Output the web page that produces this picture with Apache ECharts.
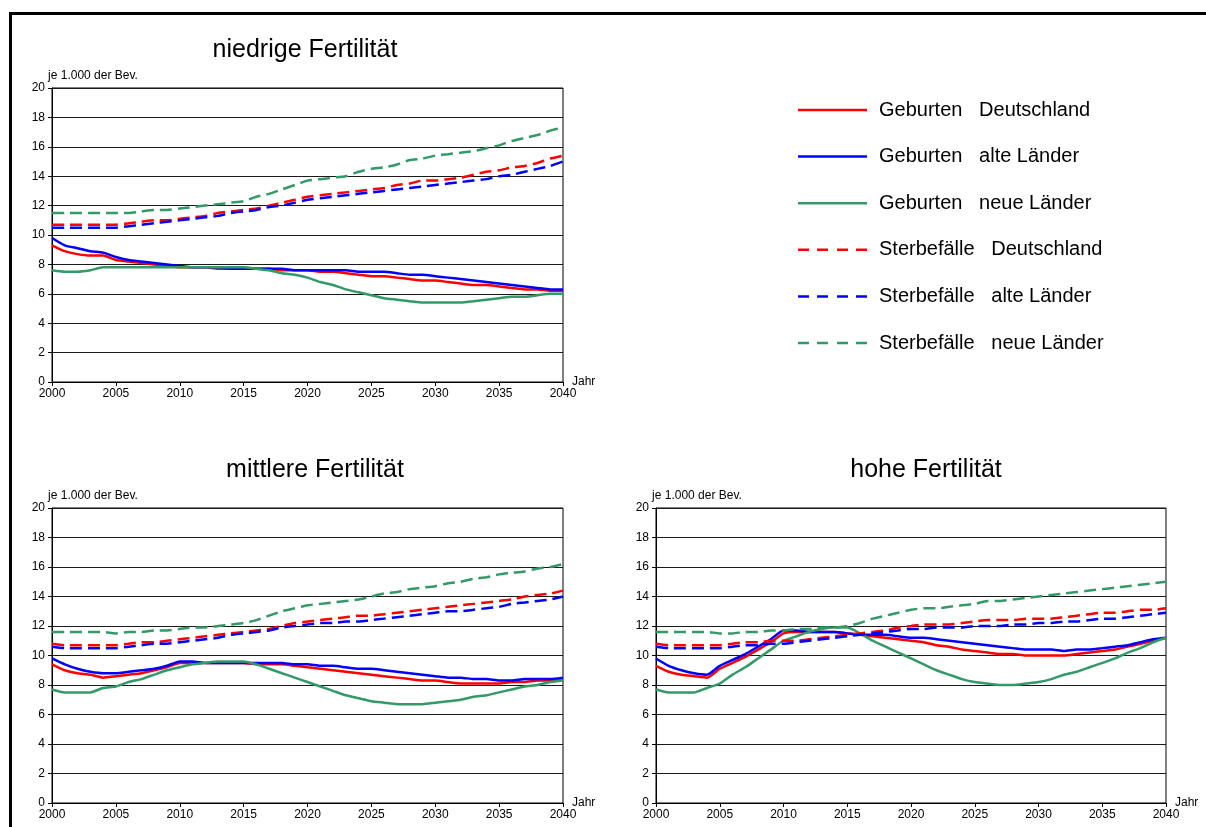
<!DOCTYPE html>
<html>
<head>
<meta charset="utf-8">
<script src="https://cdn.jsdelivr.net/npm/echarts@6/dist/echarts.min.js"></script>
<style>
html,body{margin:0;padding:0;background:#fff;}
#chart{width:1206px;height:827px;}
</style>
</head>
<body>
<div id="chart"></div>
<script>
// ---- Data ----
var years = [2000,2001,2002,2003,2004,2005,2006,2007,2008,2009,2010,2011,2012,2013,2014,2015,2016,2017,2018,2019,2020,2021,2022,2023,2024,2025,2026,2027,2028,2029,2030,2031,2032,2033,2034,2035,2036,2037,2038,2039,2040];
var seriesNames = ['Geburten   Deutschland','Geburten   alte Länder','Geburten   neue Länder','Sterbefälle   Deutschland','Sterbefälle   alte Länder','Sterbefälle   neue Länder'];
var panelTitles = ['niedrige Fertilität','mittlere Fertilität','hohe Fertilität'];
var yTicks = [0,2,4,6,8,10,12,14,16,18,20];
var xTicks = [2000,2005,2010,2015,2020,2025,2030,2035,2040];

// niedrige Fertilität
var n_geb_de  = [9.3,8.9,8.7,8.6,8.6,8.3,8.2,8.1,8.0,7.9,7.8,7.8,7.8,7.7,7.7,7.7,7.7,7.7,7.6,7.6,7.6,7.5,7.5,7.4,7.3,7.2,7.2,7.1,7.0,6.9,6.9,6.8,6.7,6.6,6.6,6.5,6.4,6.3,6.3,6.2,6.2];
var n_geb_alt = [9.8,9.3,9.1,8.9,8.8,8.5,8.3,8.2,8.1,8.0,7.9,7.8,7.8,7.8,7.7,7.7,7.7,7.7,7.7,7.6,7.6,7.6,7.6,7.6,7.5,7.5,7.5,7.4,7.3,7.3,7.2,7.1,7.0,6.9,6.8,6.7,6.6,6.5,6.4,6.3,6.3];
var n_geb_neu = [7.6,7.5,7.5,7.6,7.8,7.8,7.8,7.8,7.8,7.8,7.8,7.8,7.8,7.8,7.8,7.8,7.7,7.6,7.4,7.3,7.1,6.8,6.6,6.3,6.1,5.9,5.7,5.6,5.5,5.4,5.4,5.4,5.4,5.5,5.6,5.7,5.8,5.8,5.9,6.0,6.0];
var n_st_de   = [10.7,10.7,10.7,10.7,10.7,10.7,10.8,10.9,11.0,11.0,11.1,11.2,11.3,11.5,11.6,11.7,11.8,12.0,12.2,12.4,12.6,12.7,12.8,12.9,13.0,13.1,13.2,13.4,13.5,13.7,13.7,13.8,13.9,14.1,14.3,14.4,14.6,14.7,14.9,15.2,15.4];
var n_st_alt  = [10.5,10.5,10.5,10.5,10.5,10.5,10.6,10.7,10.8,10.9,11.0,11.1,11.2,11.3,11.5,11.6,11.7,11.9,12.0,12.2,12.4,12.5,12.6,12.7,12.8,12.9,13.0,13.1,13.2,13.3,13.4,13.5,13.6,13.7,13.8,14.0,14.1,14.3,14.5,14.7,15.0];
var n_st_neu  = [11.5,11.5,11.5,11.5,11.5,11.5,11.5,11.6,11.7,11.7,11.8,11.9,12.0,12.1,12.2,12.3,12.6,12.8,13.1,13.4,13.7,13.8,13.9,14.0,14.3,14.5,14.6,14.8,15.1,15.2,15.4,15.5,15.6,15.7,15.9,16.1,16.4,16.6,16.8,17.1,17.3];

// mittlere Fertilität
var m_geb_de  = [9.4,9.0,8.8,8.7,8.5,8.6,8.7,8.8,9.0,9.2,9.5,9.5,9.5,9.5,9.5,9.5,9.4,9.4,9.4,9.3,9.2,9.1,9.0,8.9,8.8,8.7,8.6,8.5,8.4,8.3,8.3,8.2,8.1,8.1,8.1,8.1,8.2,8.2,8.3,8.3,8.4];
var m_geb_alt = [9.8,9.4,9.1,8.9,8.8,8.8,8.9,9.0,9.1,9.3,9.6,9.6,9.5,9.5,9.5,9.5,9.5,9.5,9.5,9.4,9.4,9.3,9.3,9.2,9.1,9.1,9.0,8.9,8.8,8.7,8.6,8.5,8.5,8.4,8.4,8.3,8.3,8.4,8.4,8.4,8.5];
var m_geb_neu = [7.7,7.5,7.5,7.5,7.8,7.9,8.2,8.4,8.7,9.0,9.2,9.4,9.5,9.6,9.6,9.6,9.4,9.1,8.8,8.5,8.2,7.9,7.6,7.3,7.1,6.9,6.8,6.7,6.7,6.7,6.8,6.9,7.0,7.2,7.3,7.5,7.7,7.9,8.0,8.2,8.3];
var m_st_de   = [10.8,10.7,10.7,10.7,10.7,10.7,10.8,10.9,10.9,11.0,11.1,11.2,11.3,11.4,11.5,11.6,11.7,11.8,12.0,12.2,12.3,12.4,12.5,12.6,12.7,12.7,12.8,12.9,13.0,13.1,13.2,13.3,13.4,13.5,13.6,13.7,13.8,14.0,14.1,14.2,14.4];
var m_st_alt  = [10.6,10.5,10.5,10.5,10.5,10.5,10.6,10.7,10.8,10.8,10.9,11.0,11.1,11.2,11.4,11.5,11.6,11.7,11.9,12.0,12.1,12.2,12.2,12.3,12.3,12.4,12.5,12.6,12.7,12.8,12.9,13.0,13.0,13.1,13.2,13.3,13.5,13.6,13.7,13.8,14.0];
var m_st_neu  = [11.6,11.6,11.6,11.6,11.6,11.5,11.6,11.6,11.7,11.7,11.8,11.9,11.9,12.0,12.1,12.2,12.4,12.7,13.0,13.2,13.4,13.5,13.6,13.7,13.8,14.0,14.2,14.3,14.5,14.6,14.7,14.9,15.0,15.2,15.3,15.5,15.6,15.7,15.9,16.0,16.2];

// hohe Fertilität
var h_geb_de  = [9.3,8.9,8.7,8.6,8.5,9.1,9.5,9.9,10.4,10.9,11.5,11.6,11.6,11.6,11.6,11.5,11.4,11.3,11.2,11.1,11.0,10.9,10.7,10.6,10.4,10.3,10.2,10.1,10.1,10.0,10.0,10.0,10.0,10.1,10.2,10.3,10.4,10.6,10.8,11.0,11.2];
var h_geb_alt = [9.8,9.3,9.0,8.8,8.7,9.3,9.7,10.1,10.6,11.1,11.7,11.7,11.6,11.6,11.6,11.5,11.4,11.4,11.4,11.3,11.2,11.2,11.1,11.0,10.9,10.8,10.7,10.6,10.5,10.4,10.4,10.4,10.3,10.4,10.4,10.5,10.6,10.7,10.9,11.1,11.2];
var h_geb_neu = [7.7,7.5,7.5,7.5,7.8,8.1,8.7,9.2,9.8,10.4,11.0,11.3,11.6,11.8,11.9,11.9,11.5,11.0,10.6,10.2,9.8,9.4,9.0,8.7,8.4,8.2,8.1,8.0,8.0,8.1,8.2,8.4,8.7,8.9,9.2,9.5,9.8,10.2,10.5,10.9,11.2];
var h_st_de   = [10.8,10.7,10.7,10.7,10.7,10.7,10.8,10.9,10.9,11.0,11.0,11.0,11.1,11.2,11.3,11.4,11.5,11.6,11.7,11.9,12.0,12.1,12.1,12.1,12.2,12.3,12.4,12.4,12.4,12.5,12.5,12.5,12.6,12.7,12.8,12.9,12.9,13.0,13.1,13.1,13.2];
var h_st_alt  = [10.6,10.5,10.5,10.5,10.5,10.5,10.6,10.7,10.7,10.8,10.8,10.9,11.0,11.1,11.2,11.3,11.4,11.5,11.6,11.7,11.8,11.8,11.9,11.9,11.9,12.0,12.0,12.0,12.1,12.1,12.2,12.2,12.3,12.3,12.4,12.5,12.5,12.6,12.7,12.8,12.9];
var h_st_neu  = [11.6,11.6,11.6,11.6,11.6,11.5,11.5,11.6,11.6,11.7,11.7,11.8,11.8,11.9,11.9,12.0,12.2,12.5,12.7,12.9,13.1,13.2,13.2,13.3,13.4,13.5,13.7,13.7,13.8,13.9,14.0,14.1,14.2,14.3,14.4,14.5,14.6,14.7,14.8,14.9,15.0];

// ---- Build chart ----
var FONT = '"Liberation Sans", Arial, sans-serif';
var colors = ['#ff0000','#0000ff','#339966','#ff0000','#0000ff','#339966'];
var SOLID_ICON = 'path://M0,0H69V2.5H0Z';
var DASH_ICON = 'path://M0,0H11V2.5H0Z M19,0H30V2.5H19Z M39,0H50V2.5H39Z M58,0H69V2.5H58Z';
var panels = [
  [n_geb_de,n_geb_alt,n_geb_neu,n_st_de,n_st_alt,n_st_neu],
  [m_geb_de,m_geb_alt,m_geb_neu,m_st_de,m_st_alt,m_st_neu],
  [h_geb_de,h_geb_alt,h_geb_neu,h_st_de,h_st_alt,h_st_neu]
];
var grids = [
  {left:52, top:88, width:511, height:294},
  {left:52, top:508, width:511, height:295},
  {left:656, top:508, width:510, height:295}
];
var titleCenters = [[305,38],[315,458],[926,458]];

var grid = [], xAxis = [], yAxis = [], series = [], title = [];
grids.forEach(function(g, i){
  grid.push({left:g.left, top:g.top, width:g.width, height:g.height, show:true, borderColor:'#000', borderWidth:1, backgroundColor:'transparent'});
  xAxis.push({
    type:'value', gridIndex:i, min:xTicks[0], max:xTicks[xTicks.length-1], interval:5,
    name:'Jahr', nameLocation:'end', nameGap:9,
    nameTextStyle:{fontFamily:FONT, fontSize:12, color:'#000', verticalAlign:'middle', padding:[0,0,18,0]},
    axisLine:{show:true, lineStyle:{color:'#000', width:1}},
    axisTick:{show:true, length:4, lineStyle:{color:'#000'}},
    axisLabel:{fontFamily:FONT, fontSize:12, color:'#000', margin:6, formatter:function(v){ return String(v); }},
    splitLine:{show:false}
  });
  yAxis.push({
    type:'value', gridIndex:i, min:yTicks[0], max:yTicks[yTicks.length-1], interval:2,
    name:'je 1.000 der Bev.', nameLocation:'end', nameGap:11,
    nameTextStyle:{fontFamily:FONT, fontSize:12, color:'#000', align:'center', verticalAlign:'middle', padding:[0,0,0,82]},
    axisLine:{show:true, lineStyle:{color:'#000', width:1}},
    axisTick:{show:true, length:4, lineStyle:{color:'#000'}},
    axisLabel:{fontFamily:FONT, fontSize:12, color:'#000', margin:7},
    splitLine:{show:true, lineStyle:{color:'#1a1a1a', width:1}}
  });
  title.push({
    text:panelTitles[i], left:titleCenters[i][0], top:titleCenters[i][1], textAlign:'center', padding:0,
    textStyle:{fontFamily:FONT, fontSize:25, fontWeight:'normal', color:'#000'}
  });
  panels[i].forEach(function(vals, k){
    series.push({
      name:seriesNames[k], type:'line', xAxisIndex:i, yAxisIndex:i,
      data: years.map(function(y, j){ return [y, vals[j]]; }),
      symbol:'none', smooth:0.2, animation:false,
      lineStyle:{color:colors[k], width: 2.5, type: k<3 ? 'solid' : [12,6]},
      itemStyle:{color:colors[k]}
    });
  });
});

var legendData = seriesNames.map(function(n, k){
  return {name:n, icon: k<3 ? SOLID_ICON : DASH_ICON};
});

var chart = echarts.init(document.getElementById('chart'), null, {renderer:'canvas'});
chart.setOption({
  backgroundColor:'#fff',
  animation:false,
  title:title,
  grid:grid, xAxis:xAxis, yAxis:yAxis, series:series,
  legend:{
    data:legendData, orient:'vertical', left:793, top:95,
    itemWidth:69, itemHeight:20, itemGap:26.6, symbolKeepAspect:true,
    itemStyle:{borderWidth:0},
    textStyle:{fontFamily:FONT, fontSize:20, color:'#000', padding:[0,0,0,7], lineHeight:20},
    inactiveColor:'#ccc'
  },
  graphic:[{
    type:'rect', silent:true, z:100,
    shape:{x:10.5, y:13.5, width:1200, height:830},
    style:{fill:'none', stroke:'#000', lineWidth:3}
  }]
});
</script>
</body>
</html>
